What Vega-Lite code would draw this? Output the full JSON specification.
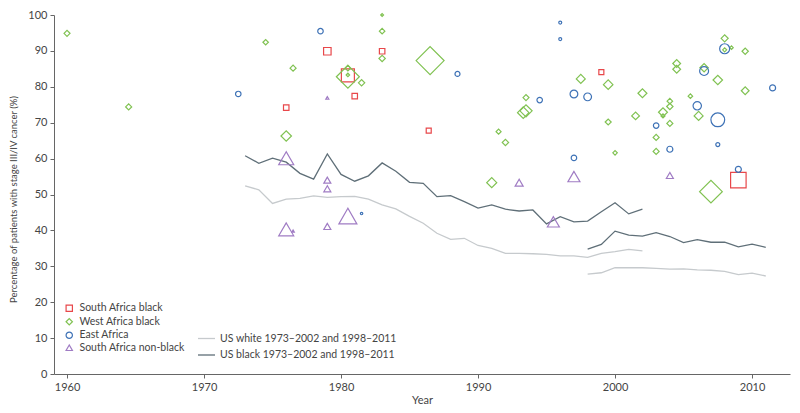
{
  "$schema": "https://vega.github.io/schema/vega-lite/v6.json",
  "width": 736,
  "height": 359,
  "autosize": {"type": "none"},
  "padding": {"left": 54, "top": 15, "right": 10, "bottom": 39},
  "background": "white",
  "config": {
    "view": {"stroke": null},
    "font": "Lato",
    "axis": {
      "grid": false,
      "domainColor": "#666",
      "tickColor": "#666",
      "tickSize": 4,
      "labelColor": "#444",
      "titleColor": "#444",
      "labelFont": "Lato",
      "titleFont": "Lato",
      "labelFontSize": 11,
      "titleFontSize": 11,
      "titleFontWeight": "normal"
    },
    "legend": {
      "labelFont": "Lato",
      "labelFontSize": 10.5,
      "labelColor": "#444",
      "labelLimit": 400,
      "padding": 0
    }
  },
  "datasets": {
    "lines": [
      {"year": 1973, "value": 60.8, "series": "US black 1973–2002 and 1998–2011", "segment": "black A"},
      {"year": 1974, "value": 58.7, "series": "US black 1973–2002 and 1998–2011", "segment": "black A"},
      {"year": 1975, "value": 60.1, "series": "US black 1973–2002 and 1998–2011", "segment": "black A"},
      {"year": 1976, "value": 59.0, "series": "US black 1973–2002 and 1998–2011", "segment": "black A"},
      {"year": 1977, "value": 55.9, "series": "US black 1973–2002 and 1998–2011", "segment": "black A"},
      {"year": 1978, "value": 54.3, "series": "US black 1973–2002 and 1998–2011", "segment": "black A"},
      {"year": 1979, "value": 61.3, "series": "US black 1973–2002 and 1998–2011", "segment": "black A"},
      {"year": 1980, "value": 55.6, "series": "US black 1973–2002 and 1998–2011", "segment": "black A"},
      {"year": 1981, "value": 53.7, "series": "US black 1973–2002 and 1998–2011", "segment": "black A"},
      {"year": 1982, "value": 55.2, "series": "US black 1973–2002 and 1998–2011", "segment": "black A"},
      {"year": 1983, "value": 58.8, "series": "US black 1973–2002 and 1998–2011", "segment": "black A"},
      {"year": 1984, "value": 56.5, "series": "US black 1973–2002 and 1998–2011", "segment": "black A"},
      {"year": 1985, "value": 53.4, "series": "US black 1973–2002 and 1998–2011", "segment": "black A"},
      {"year": 1986, "value": 53.1, "series": "US black 1973–2002 and 1998–2011", "segment": "black A"},
      {"year": 1987, "value": 49.4, "series": "US black 1973–2002 and 1998–2011", "segment": "black A"},
      {"year": 1988, "value": 49.7, "series": "US black 1973–2002 and 1998–2011", "segment": "black A"},
      {"year": 1989, "value": 48.0, "series": "US black 1973–2002 and 1998–2011", "segment": "black A"},
      {"year": 1990, "value": 46.2, "series": "US black 1973–2002 and 1998–2011", "segment": "black A"},
      {"year": 1991, "value": 47.1, "series": "US black 1973–2002 and 1998–2011", "segment": "black A"},
      {"year": 1992, "value": 45.9, "series": "US black 1973–2002 and 1998–2011", "segment": "black A"},
      {"year": 1993, "value": 45.4, "series": "US black 1973–2002 and 1998–2011", "segment": "black A"},
      {"year": 1994, "value": 45.7, "series": "US black 1973–2002 and 1998–2011", "segment": "black A"},
      {"year": 1995, "value": 41.8, "series": "US black 1973–2002 and 1998–2011", "segment": "black A"},
      {"year": 1996, "value": 43.8, "series": "US black 1973–2002 and 1998–2011", "segment": "black A"},
      {"year": 1997, "value": 42.4, "series": "US black 1973–2002 and 1998–2011", "segment": "black A"},
      {"year": 1998, "value": 42.6, "series": "US black 1973–2002 and 1998–2011", "segment": "black A"},
      {"year": 1999, "value": 45.2, "series": "US black 1973–2002 and 1998–2011", "segment": "black A"},
      {"year": 2000, "value": 47.7, "series": "US black 1973–2002 and 1998–2011", "segment": "black A"},
      {"year": 2001, "value": 44.6, "series": "US black 1973–2002 and 1998–2011", "segment": "black A"},
      {"year": 2002, "value": 45.9, "series": "US black 1973–2002 and 1998–2011", "segment": "black A"},
      {"year": 1998, "value": 34.8, "series": "US black 1973–2002 and 1998–2011", "segment": "black B"},
      {"year": 1999, "value": 36.1, "series": "US black 1973–2002 and 1998–2011", "segment": "black B"},
      {"year": 2000, "value": 39.8, "series": "US black 1973–2002 and 1998–2011", "segment": "black B"},
      {"year": 2001, "value": 38.7, "series": "US black 1973–2002 and 1998–2011", "segment": "black B"},
      {"year": 2002, "value": 38.4, "series": "US black 1973–2002 and 1998–2011", "segment": "black B"},
      {"year": 2003, "value": 39.4, "series": "US black 1973–2002 and 1998–2011", "segment": "black B"},
      {"year": 2004, "value": 38.3, "series": "US black 1973–2002 and 1998–2011", "segment": "black B"},
      {"year": 2005, "value": 36.6, "series": "US black 1973–2002 and 1998–2011", "segment": "black B"},
      {"year": 2006, "value": 37.4, "series": "US black 1973–2002 and 1998–2011", "segment": "black B"},
      {"year": 2007, "value": 36.7, "series": "US black 1973–2002 and 1998–2011", "segment": "black B"},
      {"year": 2008, "value": 36.7, "series": "US black 1973–2002 and 1998–2011", "segment": "black B"},
      {"year": 2009, "value": 35.4, "series": "US black 1973–2002 and 1998–2011", "segment": "black B"},
      {"year": 2010, "value": 36.2, "series": "US black 1973–2002 and 1998–2011", "segment": "black B"},
      {"year": 2011, "value": 35.3, "series": "US black 1973–2002 and 1998–2011", "segment": "black B"},
      {"year": 1973, "value": 52.4, "series": "US white 1973–2002 and 1998–2011", "segment": "white A"},
      {"year": 1974, "value": 51.3, "series": "US white 1973–2002 and 1998–2011", "segment": "white A"},
      {"year": 1975, "value": 47.5, "series": "US white 1973–2002 and 1998–2011", "segment": "white A"},
      {"year": 1976, "value": 48.7, "series": "US white 1973–2002 and 1998–2011", "segment": "white A"},
      {"year": 1977, "value": 48.9, "series": "US white 1973–2002 and 1998–2011", "segment": "white A"},
      {"year": 1978, "value": 49.6, "series": "US white 1973–2002 and 1998–2011", "segment": "white A"},
      {"year": 1979, "value": 49.2, "series": "US white 1973–2002 and 1998–2011", "segment": "white A"},
      {"year": 1980, "value": 49.4, "series": "US white 1973–2002 and 1998–2011", "segment": "white A"},
      {"year": 1981, "value": 49.5, "series": "US white 1973–2002 and 1998–2011", "segment": "white A"},
      {"year": 1982, "value": 48.7, "series": "US white 1973–2002 and 1998–2011", "segment": "white A"},
      {"year": 1983, "value": 47.1, "series": "US white 1973–2002 and 1998–2011", "segment": "white A"},
      {"year": 1984, "value": 46.0, "series": "US white 1973–2002 and 1998–2011", "segment": "white A"},
      {"year": 1985, "value": 43.9, "series": "US white 1973–2002 and 1998–2011", "segment": "white A"},
      {"year": 1986, "value": 42.0, "series": "US white 1973–2002 and 1998–2011", "segment": "white A"},
      {"year": 1987, "value": 39.2, "series": "US white 1973–2002 and 1998–2011", "segment": "white A"},
      {"year": 1988, "value": 37.5, "series": "US white 1973–2002 and 1998–2011", "segment": "white A"},
      {"year": 1989, "value": 37.8, "series": "US white 1973–2002 and 1998–2011", "segment": "white A"},
      {"year": 1990, "value": 35.8, "series": "US white 1973–2002 and 1998–2011", "segment": "white A"},
      {"year": 1991, "value": 35.0, "series": "US white 1973–2002 and 1998–2011", "segment": "white A"},
      {"year": 1992, "value": 33.6, "series": "US white 1973–2002 and 1998–2011", "segment": "white A"},
      {"year": 1993, "value": 33.6, "series": "US white 1973–2002 and 1998–2011", "segment": "white A"},
      {"year": 1994, "value": 33.5, "series": "US white 1973–2002 and 1998–2011", "segment": "white A"},
      {"year": 1995, "value": 33.3, "series": "US white 1973–2002 and 1998–2011", "segment": "white A"},
      {"year": 1996, "value": 32.9, "series": "US white 1973–2002 and 1998–2011", "segment": "white A"},
      {"year": 1997, "value": 32.9, "series": "US white 1973–2002 and 1998–2011", "segment": "white A"},
      {"year": 1998, "value": 32.5, "series": "US white 1973–2002 and 1998–2011", "segment": "white A"},
      {"year": 1999, "value": 33.6, "series": "US white 1973–2002 and 1998–2011", "segment": "white A"},
      {"year": 2000, "value": 34.1, "series": "US white 1973–2002 and 1998–2011", "segment": "white A"},
      {"year": 2001, "value": 34.7, "series": "US white 1973–2002 and 1998–2011", "segment": "white A"},
      {"year": 2002, "value": 34.3, "series": "US white 1973–2002 and 1998–2011", "segment": "white A"},
      {"year": 1998, "value": 27.8, "series": "US white 1973–2002 and 1998–2011", "segment": "white B"},
      {"year": 1999, "value": 28.2, "series": "US white 1973–2002 and 1998–2011", "segment": "white B"},
      {"year": 2000, "value": 29.6, "series": "US white 1973–2002 and 1998–2011", "segment": "white B"},
      {"year": 2001, "value": 29.6, "series": "US white 1973–2002 and 1998–2011", "segment": "white B"},
      {"year": 2002, "value": 29.6, "series": "US white 1973–2002 and 1998–2011", "segment": "white B"},
      {"year": 2003, "value": 29.4, "series": "US white 1973–2002 and 1998–2011", "segment": "white B"},
      {"year": 2004, "value": 29.2, "series": "US white 1973–2002 and 1998–2011", "segment": "white B"},
      {"year": 2005, "value": 29.3, "series": "US white 1973–2002 and 1998–2011", "segment": "white B"},
      {"year": 2006, "value": 29.0, "series": "US white 1973–2002 and 1998–2011", "segment": "white B"},
      {"year": 2007, "value": 28.9, "series": "US white 1973–2002 and 1998–2011", "segment": "white B"},
      {"year": 2008, "value": 28.6, "series": "US white 1973–2002 and 1998–2011", "segment": "white B"},
      {"year": 2009, "value": 27.7, "series": "US white 1973–2002 and 1998–2011", "segment": "white B"},
      {"year": 2010, "value": 28.1, "series": "US white 1973–2002 and 1998–2011", "segment": "white B"},
      {"year": 2011, "value": 27.3, "series": "US white 1973–2002 and 1998–2011", "segment": "white B"}
    ],
    "points": [
      {"year": 1979.0, "value": 89.9, "group": "South Africa black", "n": 56},
      {"year": 1980.5, "value": 83.2, "group": "South Africa black", "n": 169},
      {"year": 1983.0, "value": 89.9, "group": "South Africa black", "n": 30},
      {"year": 1976.0, "value": 74.2, "group": "South Africa black", "n": 30},
      {"year": 1981.0, "value": 77.4, "group": "South Africa black", "n": 30},
      {"year": 1986.4, "value": 67.8, "group": "South Africa black", "n": 25},
      {"year": 1999.0, "value": 84.1, "group": "South Africa black", "n": 25},
      {"year": 2009.0, "value": 54.0, "group": "South Africa black", "n": 240},
      {"year": 1960.0, "value": 94.9, "group": "West Africa black", "n": 36},
      {"year": 1964.5, "value": 74.4, "group": "West Africa black", "n": 36},
      {"year": 1974.5, "value": 92.4, "group": "West Africa black", "n": 30},
      {"year": 1976.5, "value": 85.2, "group": "West Africa black", "n": 36},
      {"year": 1976.0, "value": 66.3, "group": "West Africa black", "n": 110},
      {"year": 1980.5, "value": 82.8, "group": "West Africa black", "n": 530},
      {"year": 1980.5, "value": 85.2, "group": "West Africa black", "n": 30},
      {"year": 1980.5, "value": 83.3, "group": "West Africa black", "n": 12},
      {"year": 1981.5, "value": 81.1, "group": "West Africa black", "n": 40},
      {"year": 1983.0, "value": 100.0, "group": "West Africa black", "n": 8},
      {"year": 1983.0, "value": 95.5, "group": "West Africa black", "n": 30},
      {"year": 1983.0, "value": 87.9, "group": "West Africa black", "n": 40},
      {"year": 1986.5, "value": 87.3, "group": "West Africa black", "n": 784},
      {"year": 1997.5, "value": 82.2, "group": "West Africa black", "n": 80},
      {"year": 1999.5, "value": 80.6, "group": "West Africa black", "n": 90},
      {"year": 2002.0, "value": 78.2, "group": "West Africa black", "n": 80},
      {"year": 1993.5, "value": 77.0, "group": "West Africa black", "n": 36},
      {"year": 1993.5, "value": 73.3, "group": "West Africa black", "n": 150},
      {"year": 1993.3, "value": 72.8, "group": "West Africa black", "n": 130},
      {"year": 1991.5, "value": 67.5, "group": "West Africa black", "n": 25},
      {"year": 1992.0, "value": 64.5, "group": "West Africa black", "n": 40},
      {"year": 1999.5, "value": 70.2, "group": "West Africa black", "n": 36},
      {"year": 2000.0, "value": 61.6, "group": "West Africa black", "n": 20},
      {"year": 1991.0, "value": 53.3, "group": "West Africa black", "n": 100},
      {"year": 2001.5, "value": 71.9, "group": "West Africa black", "n": 60},
      {"year": 2003.5, "value": 72.9, "group": "West Africa black", "n": 80},
      {"year": 2003.5, "value": 71.9, "group": "West Africa black", "n": 16},
      {"year": 2004.0, "value": 76.0, "group": "West Africa black", "n": 30},
      {"year": 2004.0, "value": 74.5, "group": "West Africa black", "n": 40},
      {"year": 2004.0, "value": 69.8, "group": "West Africa black", "n": 36},
      {"year": 2003.0, "value": 65.9, "group": "West Africa black", "n": 36},
      {"year": 2003.0, "value": 62.0, "group": "West Africa black", "n": 36},
      {"year": 2004.5, "value": 86.5, "group": "West Africa black", "n": 60},
      {"year": 2004.5, "value": 84.9, "group": "West Africa black", "n": 60},
      {"year": 2005.5, "value": 77.4, "group": "West Africa black", "n": 20},
      {"year": 2006.1, "value": 71.9, "group": "West Africa black", "n": 80},
      {"year": 2006.5, "value": 85.3, "group": "West Africa black", "n": 70},
      {"year": 2007.5, "value": 81.9, "group": "West Africa black", "n": 90},
      {"year": 2008.0, "value": 93.5, "group": "West Africa black", "n": 50},
      {"year": 2008.0, "value": 90.3, "group": "West Africa black", "n": 16},
      {"year": 2008.5, "value": 90.9, "group": "West Africa black", "n": 12},
      {"year": 2009.5, "value": 89.9, "group": "West Africa black", "n": 40},
      {"year": 2009.5, "value": 78.9, "group": "West Africa black", "n": 60},
      {"year": 2007.0, "value": 50.8, "group": "West Africa black", "n": 515},
      {"year": 1972.5, "value": 78.0, "group": "East Africa", "n": 30},
      {"year": 1978.5, "value": 95.5, "group": "East Africa", "n": 30},
      {"year": 1981.5, "value": 44.7, "group": "East Africa", "n": 6},
      {"year": 1988.5, "value": 83.6, "group": "East Africa", "n": 25},
      {"year": 1996.0, "value": 97.9, "group": "East Africa", "n": 9},
      {"year": 1996.0, "value": 93.3, "group": "East Africa", "n": 9},
      {"year": 1994.5, "value": 76.3, "group": "East Africa", "n": 30},
      {"year": 1997.0, "value": 78.0, "group": "East Africa", "n": 60},
      {"year": 1998.0, "value": 77.2, "group": "East Africa", "n": 60},
      {"year": 1997.0, "value": 60.2, "group": "East Africa", "n": 30},
      {"year": 2003.0, "value": 69.2, "group": "East Africa", "n": 30},
      {"year": 2004.0, "value": 62.6, "group": "East Africa", "n": 36},
      {"year": 2006.0, "value": 74.7, "group": "East Africa", "n": 70},
      {"year": 2007.5, "value": 70.8, "group": "East Africa", "n": 190},
      {"year": 2007.5, "value": 63.9, "group": "East Africa", "n": 16},
      {"year": 2006.5, "value": 84.4, "group": "East Africa", "n": 80},
      {"year": 2008.0, "value": 90.6, "group": "East Africa", "n": 100},
      {"year": 2011.5, "value": 79.7, "group": "East Africa", "n": 36},
      {"year": 2009.0, "value": 57.0, "group": "East Africa", "n": 36},
      {"year": 1976.0, "value": 60.1, "group": "South Africa non-black", "n": 225},
      {"year": 1979.0, "value": 54.0, "group": "South Africa non-black", "n": 49},
      {"year": 1979.0, "value": 51.6, "group": "South Africa non-black", "n": 49},
      {"year": 1979.0, "value": 76.9, "group": "South Africa non-black", "n": 9},
      {"year": 1976.0, "value": 40.3, "group": "South Africa non-black", "n": 225},
      {"year": 1979.0, "value": 41.1, "group": "South Africa non-black", "n": 49},
      {"year": 1980.5, "value": 44.0, "group": "South Africa non-black", "n": 324},
      {"year": 1993.0, "value": 53.3, "group": "South Africa non-black", "n": 64},
      {"year": 1997.0, "value": 55.0, "group": "South Africa non-black", "n": 144},
      {"year": 2004.0, "value": 55.3, "group": "South Africa non-black", "n": 49},
      {"year": 1995.5, "value": 42.4, "group": "South Africa non-black", "n": 144},
      {"year": 1976.5, "value": 39.8, "group": "South Africa non-black", "n": 6}
    ]
  },
  "encoding": {
    "x": {
      "field": "year",
      "type": "quantitative",
      "scale": {"domain": [1959.05, 2012.77], "nice": false, "zero": false},
      "axis": {"values": [1960, 1970, 1980, 1990, 2000, 2010], "format": "d", "title": "Year", "titlePadding": 2, "labelPadding": 3}
    },
    "y": {
      "field": "value",
      "type": "quantitative",
      "scale": {"domain": [0, 100], "nice": false},
      "axis": {"values": [0, 10, 20, 30, 40, 50, 60, 70, 80, 90, 100], "title": "Percentage of patients with stage III/IV cancer (%)", "titleFontSize": 9.5, "titlePadding": 9, "titleY": 184, "labelPadding": 3}
    }
  },
  "layer": [
    {
      "data": {"name": "lines"},
      "mark": {"type": "line", "strokeWidth": 1.3},
      "encoding": {
        "stroke": {
          "field": "series",
          "type": "nominal",
          "scale": {
            "domain": ["US white 1973–2002 and 1998–2011", "US black 1973–2002 and 1998–2011"],
            "range": ["#c6cacd", "#5f6f78"]
          },
          "legend": {
            "title": null,
            "orient": "none",
            "legendX": 143,
            "legendY": 314,
            "symbolType": "stroke",
            "symbolSize": 289,
            "symbolStrokeWidth": 1.3,
            "labelOffset": 4,
            "rowPadding": 1.5
          }
        },
        "detail": {"field": "segment", "type": "nominal"}
      }
    },
    {
      "data": {"name": "points"},
      "mark": {"type": "point", "filled": false, "strokeWidth": 1.2, "opacity": 1},
      "encoding": {
        "color": {
          "field": "group",
          "type": "nominal",
          "scale": {
            "domain": ["South Africa black", "West Africa black", "East Africa", "South Africa non-black"],
            "range": ["#e8474a", "#80c252", "#3e72b6", "#a07cc4"]
          },
          "legend": {
            "title": null,
            "orient": "none",
            "legendX": 10,
            "legendY": 288,
            "symbolSize": 40,
            "symbolStrokeWidth": 1.2,
            "labelOffset": 5,
            "rowPadding": 1.5
          }
        },
        "shape": {
          "field": "group",
          "type": "nominal",
          "scale": {
            "domain": ["South Africa black", "West Africa black", "East Africa", "South Africa non-black"],
            "range": ["square", "diamond", "circle", "triangle-up"]
          },
          "legend": {
            "title": null,
            "orient": "none",
            "legendX": 10,
            "legendY": 288,
            "symbolSize": 40,
            "symbolStrokeWidth": 1.2,
            "labelOffset": 5,
            "rowPadding": 1.5
          }
        },
        "size": {
          "field": "n",
          "type": "quantitative",
          "scale": {"type": "linear", "domain": [0, 800], "range": [0, 800], "zero": true},
          "legend": null
        }
      }
    }
  ]
}
